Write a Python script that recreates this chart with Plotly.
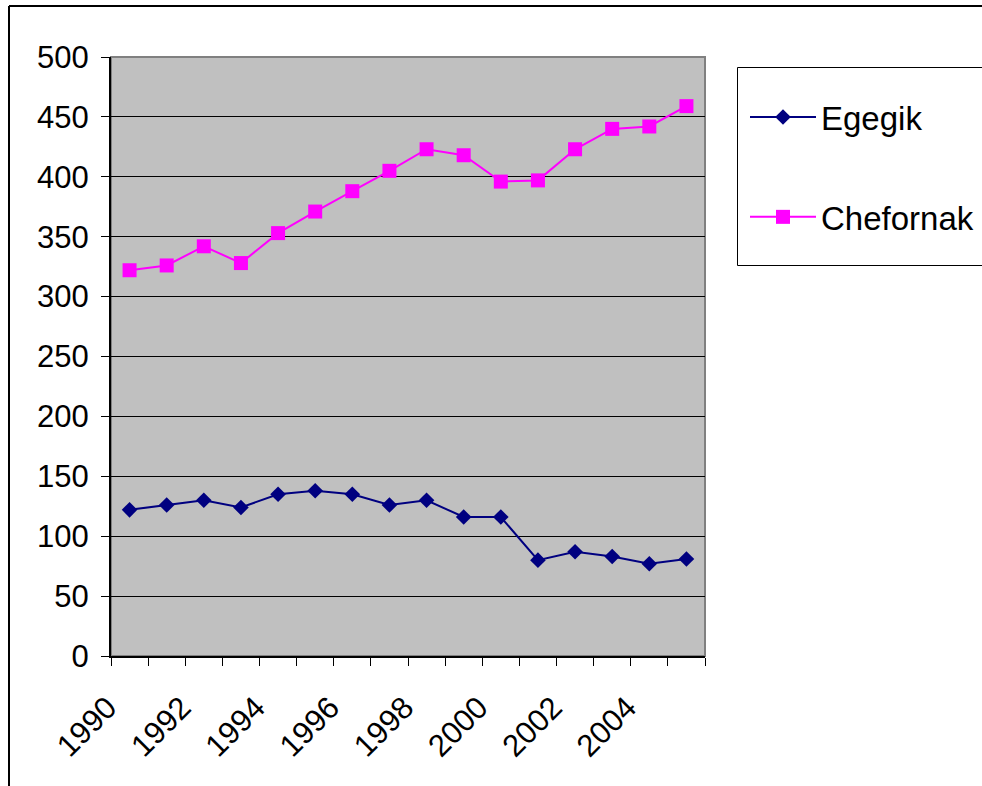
import plotly.graph_objects as go

# Annual values for the two villages
years = list(range(1990, 2006))
egegik = [122, 126, 130, 124, 135, 138, 135, 126, 130, 116, 116, 80, 87, 83, 77, 81]
chefornak = [322, 326, 342, 328, 353, 371, 388, 405, 423, 418, 396, 397, 423, 440, 442, 459]
year_labels = [str(y) for y in range(1990, 2006, 2)]

FONT = "Arial, Liberation Sans, sans-serif"

# plot area placement in pixels
W, H = 982, 786
L, R, T, B = 111, 705, 57, 656
pw, ph = R - L, B - T


def px_x(x):
    return (x - L) / pw


def px_y(y):
    return (B - y) / ph


fig = go.Figure()
fig.add_trace(go.Scatter(
    x=years, y=egegik, name="Egegik", mode="lines+markers",
    line=dict(color="#000080", width=2),
    marker=dict(symbol="diamond", size=12, color="#000080"),
    legendgroup="a",
))
fig.add_trace(go.Scatter(
    x=years, y=chefornak, name="Chefornak", mode="lines+markers",
    line=dict(color="#FF00FF", width=2),
    marker=dict(symbol="square", size=14, color="#FF00FF"),
    legendgroup="b",
))

shapes = [
    # plot area frame
    dict(type="rect", xref="paper", yref="paper", x0=0, x1=1, y0=0, y1=1,
         line=dict(color="#808080", width=2), layer="below"),
    # chart outer border (left and top edges)
    dict(type="line", xref="paper", yref="paper",
         x0=px_x(9), x1=px_x(9), y0=px_y(6), y1=px_y(800),
         line=dict(color="black", width=2)),
    dict(type="line", xref="paper", yref="paper",
         x0=px_x(9), x1=px_x(1000), y0=px_y(6), y1=px_y(6),
         line=dict(color="black", width=2)),
    # legend box
    dict(type="rect", xref="paper", yref="paper",
         x0=px_x(737.5), x1=px_x(1000), y0=px_y(67.5), y1=px_y(265.5),
         line=dict(color="black", width=1), fillcolor="white"),
]

fig.update_layout(
    width=W, height=H,
    margin=dict(l=L, r=W - R, t=T, b=H - B, pad=0, autoexpand=False),
    paper_bgcolor="white",
    plot_bgcolor="#C0C0C0",
    font=dict(family=FONT, size=31, color="black"),
    shapes=shapes,
    showlegend=True,
    legend=dict(
        x=px_x(745), y=px_y(89), xanchor="left", yanchor="top",
        bgcolor="rgba(0,0,0,0)", borderwidth=0,
        font=dict(family=FONT, size=33, color="black"),
        tracegroupgap=54, traceorder="grouped",
        itemwidth=66,
    ),
    xaxis=dict(
        range=[1989.5, 2005.5],
        tickmode="array", tickvals=list(range(1990, 2006, 2)), ticktext=year_labels,
        ticks="", tickangle=-45,
        ticklabelstandoff=19, ticklabelshift=-22,
        showgrid=False, zeroline=False,
        showline=True, linecolor="black", linewidth=2,
        minor=dict(tick0=1989.5, dtick=1, ticks="outside", ticklen=8,
                   tickcolor="black", tickwidth=1, showgrid=False),
        tickfont=dict(family=FONT, size=31),
    ),
    yaxis=dict(
        range=[0, 500], dtick=50, tick0=0,
        ticks="outside", ticklen=8, tickcolor="black", tickwidth=1,
        showgrid=True, gridcolor="black", gridwidth=1,
        zeroline=False,
        showline=True, linecolor="black", linewidth=2,
        ticklabelstandoff=6,
        tickfont=dict(family=FONT, size=31),
    ),
)

fig.write_html("out.html")
